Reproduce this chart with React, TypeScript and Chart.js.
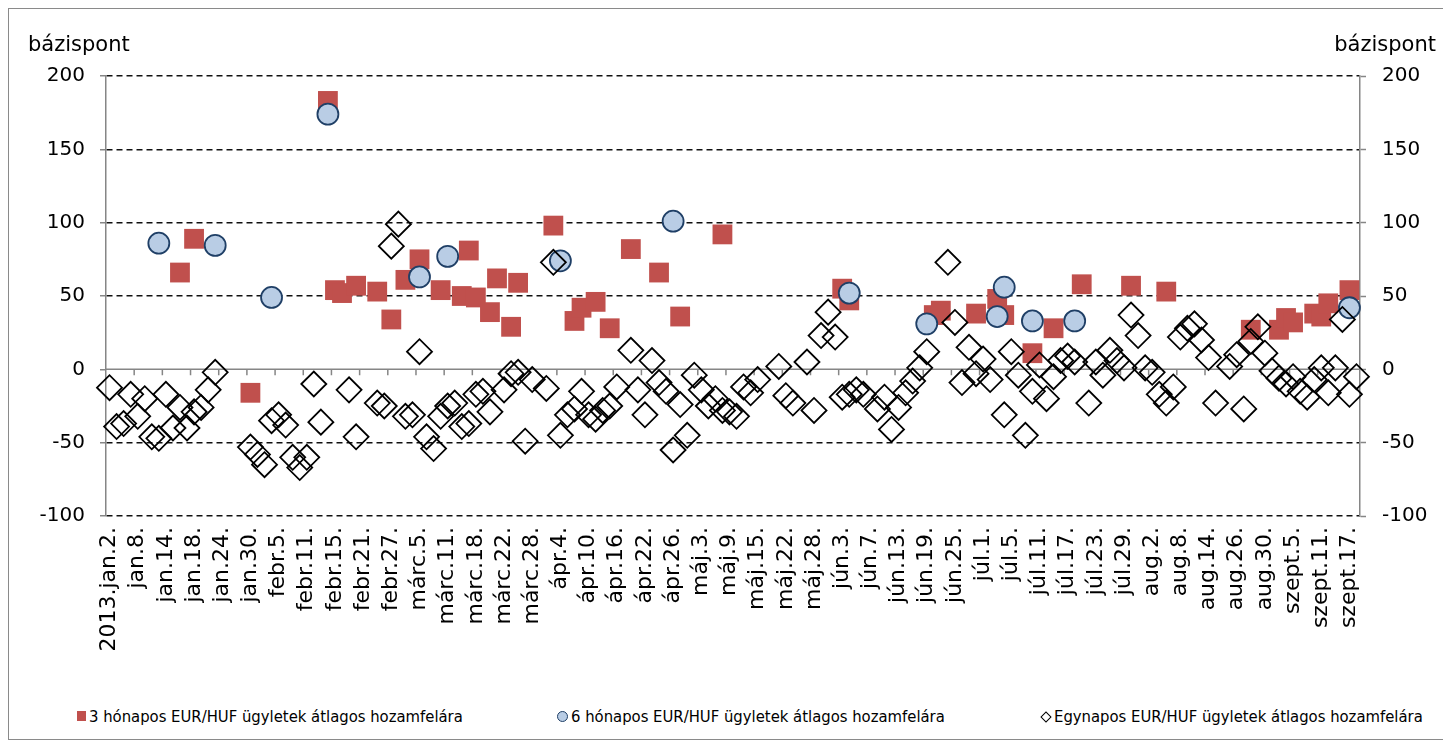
import { useEffect, useRef } from 'react';
import { Chart, registerables } from 'chart.js';

Chart.register(...registerables);

// ---------- data ----------
const tickLabels = [
  '2013.jan.2.', 'jan.8.', 'jan.14.', 'jan.18.', 'jan.24.', 'jan.30.', 'febr.5.', 'febr.11.', 'febr.15.',
  'febr.21.', 'febr.27.', 'márc.5.', 'márc.11.', 'márc.18.', 'márc.22.', 'márc.28.', 'ápr.4.', 'ápr.10.',
  'ápr.16.', 'ápr.22.', 'ápr.26.', 'máj.3.', 'máj.9.', 'máj.15.', 'máj.22.', 'máj.28.', 'jún.3.', 'jún.7.',
  'jún.13.', 'jún.19.', 'jún.25.', 'júl.1.', 'júl.5.', 'júl.11.', 'júl.17.', 'júl.23.', 'júl.29.', 'aug.2.',
  'aug.8.', 'aug.14.', 'aug.26.', 'aug.30.', 'szept.5.', 'szept.11.', 'szept.17.',
];
const dayCount = 178;
const labelEvery = 4;

// 3 hónapos (trading-day index -> basis points)
const m3Days = [10, 12, 20, 31, 32, 33, 35, 38, 40, 42, 44, 47, 50, 51, 52, 54, 55, 57, 58, 63, 66, 67, 69, 71, 74, 78, 81, 87,
  104, 105, 117, 118, 123, 126, 127, 131, 134, 138, 145, 150, 162, 166, 167, 168, 171, 172, 173, 176];
const m3Values = [66, 89, -16, 183, 54, 52, 57, 53, 34, 61, 75, 54, 50, 81, 49, 39, 62, 29, 59, 98, 33, 42, 46, 28, 82, 66, 36, 92,
  55, 47, 37, 40, 38, 48, 37, 11, 28, 58, 57, 53, 27, 27, 35, 32, 38, 36, 45, 54];

// 6 hónapos
const m6Days = [7, 15, 23, 31, 44, 48, 64, 80, 105, 116, 126, 127, 131, 137, 176];
const m6Values = [86, 84.5, 49, 174, 63, 77, 74, 101, 52, 31, 36, 56, 33, 33, 42];

// Egynapos (one value per trading day, null = no deal)
const onValues: (number | null)[] = [
  -12.5, -39, -37, -17, -32, -20, -46, -47, -17, -40,
  -26, -40, -29, -26, -14, -2, null, null, null, null,
  -53, -58, -65, -35, -31, -38, -60, -67, -60, -10,
  -36, null, null, null, -14, -46, null, null, -23, -25,
  84, 99, -32, -31, 12, -46, -54, -32, -25, -23,
  -39, -37, -17, -15, -29, null, -14, -3, -2, -49,
  -7, null, -13, 73, -45, -31, -27, -15, -31, -34,
  -28, -25, -12, null, 13, -14, -31, 6, -9, -15,
  -55, -24, -45, -4, -14, -25, -20, -28, -29, -32,
  -12, -16, -7, null, null, 2, -18, -23, null, 5,
  -28, 23, 39, 22, -19, -17, -14, -17, null, -27,
  -19, -41, -26, -16, -8, 1, 12, null, null, 73,
  32, -9, 15, -3, 7, -7, null, -31, 12, -4,
  -45, -15, 3, -20, -5, 6, 9, 5, null, -23,
  5, -4, 13, 6, 1, 37, 23, 1, -2, -17,
  -23, -12, 22, 28, 31, 20, 8, -23, null, 2,
  10, -27, 19, 29, 11, -1, -6, -10, -5, -15,
  -19, -7, 1, -16, 1, 34, -17, -5,
];

const seriesNames = [
  '3 hónapos EUR/HUF ügyletek átlagos hozamfelára',
  '6 hónapos EUR/HUF ügyletek átlagos hozamfelára',
  'Egynapos EUR/HUF ügyletek átlagos hozamfelára',
];
const axisTitle = 'bázispont';
const yMin = -100;
const yMax = 200;
const yStep = 50;

// ---------- helpers ----------
const categories: string[] = Array.from({ length: dayCount }, (_, i) =>
  i % labelEvery === 0 ? tickLabels[i / labelEvery] ?? '' : ''
);
function toSeries(days: number[], values: number[]): (number | null)[] {
  const arr: (number | null)[] = new Array(dayCount).fill(null);
  days.forEach((d, k) => {
    arr[d] = values[k];
  });
  return arr;
}

const RED = '#C0504D';
const BLUE_FILL = '#B9CDE5';
const BLUE_EDGE = '#1F3F66';
const AXIS_GRAY = '#868686';
const FONT = 'DejaVu Sans';
const LEGEND_FONT = '"DejaVu Sans Condensed", "DejaVu Sans"';

const CANVAS_W = 1434;
const CANVAS_H = 660;
const AREA_LEFT = 97;
const AREA_RIGHT = 1351;
const AREA_TOP = 67;
const AREA_BOTTOM = 507;

const zeroAxisPlugin = {
  id: 'zeroAxis',
  beforeDatasetsDraw(chart: any) {
    const { ctx, chartArea, scales } = chart;
    const x = scales.x;
    const y = scales.y;
    const y0 = y.getPixelForValue(0);
    ctx.save();
    ctx.strokeStyle = AXIS_GRAY;
    ctx.lineWidth = 1.5;
    ctx.beginPath();
    ctx.moveTo(chartArea.left, y0);
    ctx.lineTo(chartArea.right, y0);
    for (let i = labelEvery; i < categories.length; i += labelEvery) {
      const px = (x.getPixelForValue(i - 1) + x.getPixelForValue(i)) / 2;
      ctx.moveTo(px, y0);
      ctx.lineTo(px, y0 + 6);
    }
    ctx.stroke();
    ctx.restore();
  },
};

function ChartCanvas() {
  const ref = useRef<HTMLCanvasElement | null>(null);
  useEffect(() => {
    if (!ref.current) return;
    const chart = new Chart(ref.current, {
      type: 'line',
      data: {
        labels: categories,
        datasets: [
          {
            label: seriesNames[2],
            data: onValues,
            showLine: false,
            pointStyle: 'rectRot',
            pointRadius: 12.5,
            pointBackgroundColor: 'rgba(0,0,0,0)',
            pointBorderColor: '#000',
            pointBorderWidth: 1.8,
            order: 0,
            clip: false,
          },
          {
            label: seriesNames[1],
            data: toSeries(m6Days, m6Values),
            showLine: false,
            pointStyle: 'circle',
            pointRadius: 10.5,
            pointBackgroundColor: BLUE_FILL,
            pointBorderColor: BLUE_EDGE,
            pointBorderWidth: 1.8,
            order: 1,
            clip: false,
          },
          {
            label: seriesNames[0],
            data: toSeries(m3Days, m3Values),
            showLine: false,
            pointStyle: 'rect',
            pointRadius: 14,
            pointBackgroundColor: RED,
            pointBorderColor: RED,
            pointBorderWidth: 0,
            order: 2,
            clip: false,
          },
        ] as any,
      },
      options: {
        responsive: false,
        animation: false,
        events: [],
        layout: { padding: { top: AREA_TOP, left: 0, right: 0, bottom: 0 } },
        plugins: { legend: { display: false }, tooltip: { enabled: false }, title: { display: false } },
        scales: {
          x: {
            type: 'category',
            offset: true,
            grid: { display: false, drawTicks: false },
            border: { display: false },
            ticks: {
              autoSkip: false,
              minRotation: 90,
              maxRotation: 90,
              padding: 11,
              color: '#000',
              font: { family: FONT, size: 22 },
            },
            afterFit: (s: any) => {
              s.height = CANVAS_H - AREA_BOTTOM;
            },
          },
          y: {
            position: 'left',
            min: yMin,
            max: yMax,
            ticks: { stepSize: yStep, padding: 15, color: '#000', font: { family: FONT, size: 20 } },
            grid: {
              color: (c: any) => (c.tick && c.tick.value === 0 ? 'rgba(0,0,0,0)' : '#111'),
              lineWidth: 1.5,
              drawTicks: true,
              tickLength: 6,
              tickColor: AXIS_GRAY,
              tickWidth: 1.5,
            },
            border: { display: true, color: AXIS_GRAY, width: 1.5, dash: [6, 4] },
            afterFit: (s: any) => {
              s.width = AREA_LEFT;
            },
          },
          y2: {
            position: 'right',
            min: yMin,
            max: yMax,
            ticks: { stepSize: yStep, padding: 16, color: '#000', font: { family: FONT, size: 20 } },
            grid: {
              drawOnChartArea: false,
              drawTicks: true,
              tickLength: 6,
              tickColor: AXIS_GRAY,
              tickWidth: 1.5,
              color: AXIS_GRAY,
            },
            border: { display: true, color: AXIS_GRAY, width: 1.5 },
            afterFit: (s: any) => {
              s.width = CANVAS_W - AREA_RIGHT;
            },
          },
        },
      } as any,
      plugins: [zeroAxisPlugin],
    });
    return () => chart.destroy();
  }, []);
  return (
    <canvas
      ref={ref}
      width={CANVAS_W}
      height={CANVAS_H}
      style={{ position: 'absolute', left: 0, top: 0, width: CANVAS_W, height: CANVAS_H }}
    />
  );
}

function LegendMarker({ kind }: { kind: number }) {
  if (kind === 0) {
    return <span style={{ display: 'inline-block', width: 9, height: 10, background: RED }} />;
  }
  if (kind === 1) {
    return (
      <span
        style={{
          display: 'inline-block',
          width: 9,
          height: 9,
          borderRadius: '50%',
          background: BLUE_FILL,
          border: `1px solid ${BLUE_EDGE}`,
        }}
      />
    );
  }
  return (
    <span style={{ display: 'inline-block', width: 11, height: 11, position: 'relative' }}>
      <span
        style={{
          position: 'absolute',
          left: 2,
          top: 2,
          width: 6,
          height: 6,
          border: '1.5px solid #000',
          transform: 'rotate(45deg)',
        }}
      />
    </span>
  );
}

const legendLefts = [68, 548, 1031];

export default function App() {
  return (
    <div
      style={{
        position: 'relative',
        width: 1436,
        height: 732,
        border: '1px solid #8a8a8a',
        boxSizing: 'border-box',
        background: '#fff',
        fontFamily: FONT,
      }}
    >
      <ChartCanvas />
      <div style={{ position: 'absolute', left: 19, top: 25, fontSize: 21, lineHeight: '21px', color: '#000' }}>
        {axisTitle}
      </div>
      <div style={{ position: 'absolute', right: 7, top: 25, fontSize: 21, lineHeight: '21px', color: '#000' }}>
        {axisTitle}
      </div>
      {seriesNames.map((name, k) => (
        <div
          key={name}
          style={{
            position: 'absolute',
            left: legendLefts[k],
            top: 697,
            height: 20,
            display: 'flex',
            alignItems: 'center',
            gap: 3,
            fontSize: 16.5,
            fontFamily: LEGEND_FONT,
            whiteSpace: 'nowrap',
            color: '#000',
          }}
        >
          <LegendMarker kind={k} />
          <span>{name}</span>
        </div>
      ))}
    </div>
  );
}
